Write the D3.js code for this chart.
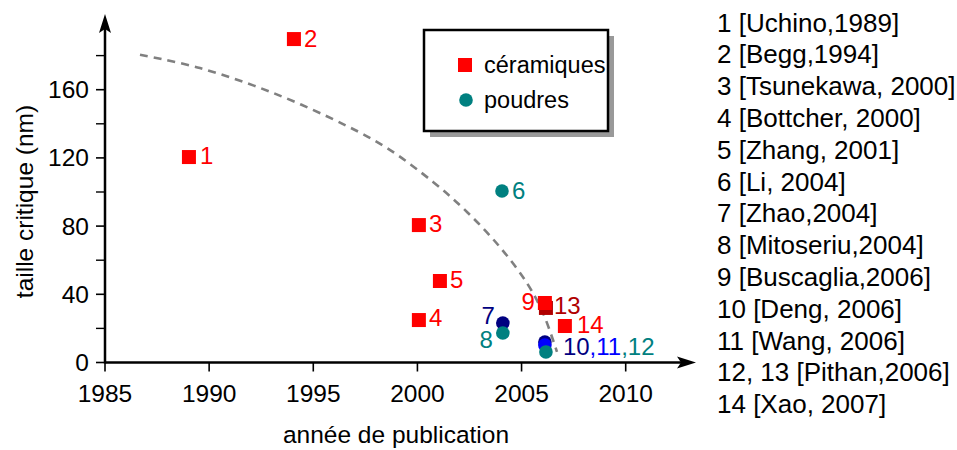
<!DOCTYPE html>
<html><head><meta charset="utf-8">
<script src="https://cdn.jsdelivr.net/npm/d3@7"></script>
<style>
body{margin:0;background:#fff;}
text{font-family:"Liberation Sans",Arial,sans-serif;}
</style></head>
<body><svg id="c" width="957" height="450"></svg>
<script>
// ---- data ----
const ids    = ["1","2","3","4","5","6","7","8","9","10","11","12","13","14"];
const years  = [1989.03,1994.07,2000.07,2000.07,2001.08,2004.06,2004.1,2004.1,2006.12,2006.12,2006.12,2006.17,2006.17,2007.08];
const sizes  = [120.5,189.7,80.6,24.9,47.8,100.6,23.2,17.3,34.9,12.0,10.3,6.2,32.0,21.4];
const kinds  = ["c","c","c","c","c","p","p","p","c","p","p","p","c","c"]; // c = céramiques, p = poudres
const colors = ["#ff0000","#ff0000","#ff0000","#ff0000","#ff0000","#008080","#000080","#008080","#ff0000","#000080","#0000ff","#008080","#b00000","#ff0000"];
const drawOrder = [0,1,2,3,4,5,6,7,12,8,9,10,11,13];
const curveYears = [1986.68,1989.56,1993.07,1996.62,1998.54,2000.75,2002.38,2003.96,2005.26,2006.03,2006.7];
const curveSizes = [180.5,172.7,158.1,138.7,125.8,105.9,88.3,67.7,46.6,29.0,6.2];
const xTicks = [1985,1990,1995,2000,2005,2010];
const yTicks = [0,40,80,120,160];
const yMinor = [20,60,100,140,180];
const refs = ["1 [Uchino,1989]","2 [Begg,1994]","3 [Tsunekawa, 2000]","4 [Bottcher, 2000]","5 [Zhang, 2001]","6 [Li, 2004]","7 [Zhao,2004]","8 [Mitoseriu,2004]","9 [Buscaglia,2006]","10 [Deng, 2006]","11 [Wang, 2006]","12, 13 [Pithan,2006]","14 [Xao, 2007]"];
const legendLabels = ["céramiques","poudres"];
const legendColors = ["#ff0000","#008080"];
// point labels: index of point, text, anchor, offsets
const labelIdx   = [0,1,2,3,4,5,6,7,8,12,13];
const labelText  = ["1","2","3","4","5","6","7","8","9","13","14"];
const labelAnch  = ["start","start","start","start","start","start","end","end","end","start","start"];
const labelDx    = [11,10,10,10,10,10,-8,-10,-10,8,12];
const labelDy    = [-1,0,-1,-2,-1,0,-7,7,-1,-2,-1];
const multiParts = ["10",",11",",12"];
const multiCols  = ["#000080","#0000ff","#008080"];

// ---- drawing ----
const svg = d3.select("#c");
const x = d3.scaleLinear().domain([1985,2010]).range([105,625.7]);
const y = d3.scaleLinear().domain([0,160]).range([362.5,89.7]);

// dashed curve
const line = d3.line().x((d,i)=>x(curveYears[i])).y((d,i)=>y(curveSizes[i])).curve(d3.curveCatmullRom);
svg.append("path").attr("d", line(curveYears)).attr("fill","none")
  .attr("stroke","#808080").attr("stroke-width",2.6).attr("stroke-dasharray","8,6");

// axes
const ax = svg.append("g");
const x0 = x(1985), y0 = y(0);
ax.append("line").attr("x1",x0).attr("x2",688).attr("y1",y0).attr("y2",y0).attr("stroke","#000").attr("stroke-width",2.5);
ax.append("line").attr("x1",x0).attr("x2",x0).attr("y1",y0+1).attr("y2",22).attr("stroke","#000").attr("stroke-width",2.5);
// arrowheads
ax.append("path").attr("d",`M${x0},14 L${x0-6},33 L${x0},29 L${x0+6},33 Z`).attr("fill","#000");
ax.append("path").attr("d",`M696,${y0} L677,${y0-6} L681,${y0} L677,${y0+6} Z`).attr("fill","#000");

xTicks.forEach(t=>{
  ax.append("line").attr("x1",x(t)).attr("x2",x(t)).attr("y1",y0).attr("y2",y0+9).attr("stroke","#000").attr("stroke-width",1.6);
  ax.append("text").attr("x",x(t)).attr("y",y0+31).attr("dy","0.35em").attr("text-anchor","middle").attr("font-size",24.5).text(t);
});
yTicks.forEach(t=>{
  ax.append("line").attr("x1",x0-9).attr("x2",x0).attr("y1",y(t)).attr("y2",y(t)).attr("stroke","#000").attr("stroke-width",1.6);
  ax.append("text").attr("x",x0-16).attr("y",y(t)).attr("dy","0.35em").attr("text-anchor","end").attr("font-size",24.5).text(t);
});
yMinor.forEach(t=>{
  ax.append("line").attr("x1",x0-9).attr("x2",x0).attr("y1",y(t)).attr("y2",y(t)).attr("stroke","#000").attr("stroke-width",1.4);
});

svg.append("text").attr("x",396).attr("y",443).attr("text-anchor","middle").attr("font-size",24.5).text("année de publication");
svg.append("text").attr("transform","translate(33,201.5) rotate(-90)").attr("text-anchor","middle").attr("font-size",24.5).text("taille critique (nm)");

// points
const pts = svg.append("g");
drawOrder.forEach(i=>{
  const cx = x(years[i]), cy = y(sizes[i]);
  if(kinds[i]==="c"){
    pts.append("rect").attr("x",cx-7).attr("y",cy-7).attr("width",14).attr("height",14).attr("fill",colors[i]);
  } else {
    pts.append("circle").attr("cx",cx).attr("cy",cy).attr("r",6.8).attr("fill",colors[i]);
  }
});
labelIdx.forEach((i,k)=>{
  svg.append("text").attr("x",x(years[i])+labelDx[k]).attr("y",y(sizes[i])+labelDy[k]).attr("dy","0.35em")
    .attr("text-anchor",labelAnch[k]).attr("font-size",24).attr("fill",colors[i]).text(labelText[k]);
});
const mt = svg.append("text").attr("x",x(years[9])+18).attr("y",y(sizes[9])+5).attr("dy","0.35em").attr("font-size",24);
multiParts.forEach((p,k)=>mt.append("tspan").attr("fill",multiCols[k]).text(p));

// legend
const lg = svg.append("g");
lg.append("rect").attr("x",430).attr("y",36).attr("width",184).attr("height",101).attr("fill","#999");
lg.append("rect").attr("x",424).attr("y",30).attr("width",184).attr("height",101).attr("fill","#fff").attr("stroke","#000").attr("stroke-width",2.5);
lg.append("rect").attr("x",458).attr("y",58).attr("width",14).attr("height",14).attr("fill",legendColors[0]);
lg.append("circle").attr("cx",466).attr("cy",100).attr("r",6.8).attr("fill",legendColors[1]);
legendLabels.forEach((l,k)=>{
  lg.append("text").attr("x",484).attr("y",k===0?65:100).attr("dy","0.35em").attr("font-size",23.5).text(l);
});

// reference list
refs.forEach((r,k)=>{
  svg.append("text").attr("x",717).attr("y",22.5+k*31.8).attr("dy","0.35em").attr("font-size",26).text(r);
});
</script></body></html>
